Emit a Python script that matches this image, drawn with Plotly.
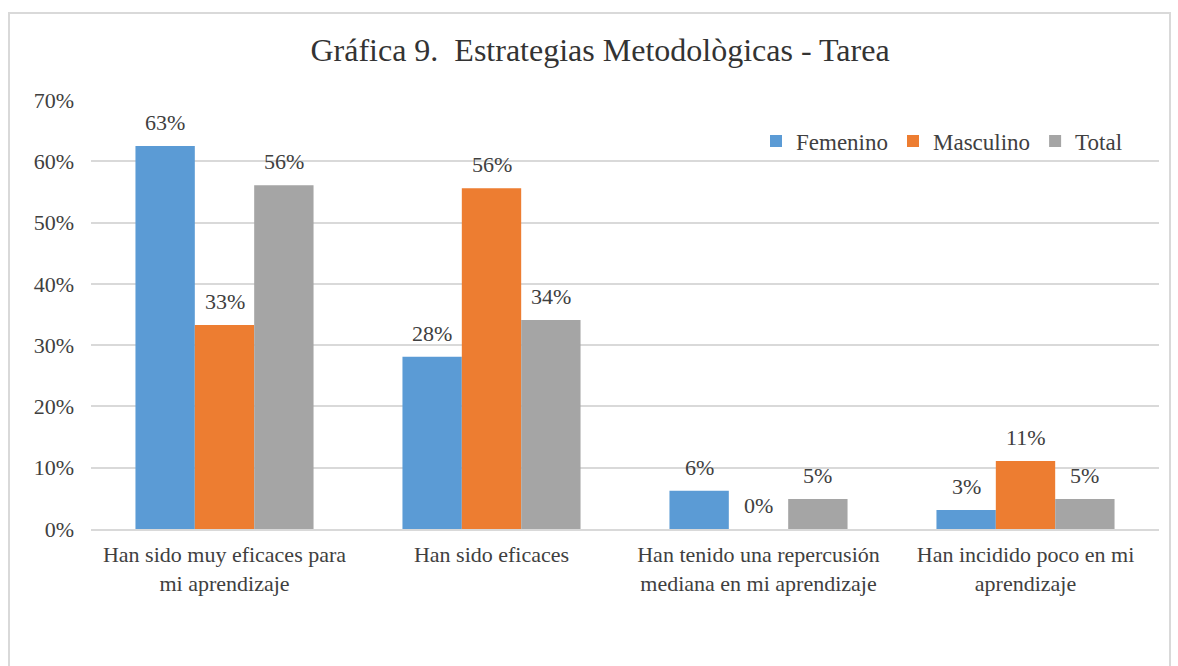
import plotly.graph_objects as go

categories = [
    "Han sido muy eficaces para<br>mi aprendizaje",
    "Han sido eficaces",
    "Han tenido una repercusión<br>mediana en mi aprendizaje",
    "Han incidido poco en mi<br>aprendizaje",
]
femenino = [62.5, 28.1, 6.25, 3.1]
masculino = [33.3, 55.6, 0.0, 11.1]
total = [56.1, 34.1, 4.9, 4.9]
series_names = ["Femenino", "Masculino", "Total"]
colors = ["#5B9BD5", "#ED7D31", "#A5A5A5"]
y_ticks = [0, 10, 20, 30, 40, 50, 60, 70]

FONT = "Liberation Serif, Times New Roman, serif"
TXT = "#404040"
FS = 22

W, H = 1178, 666
L, R, T, B = 91, 19, 100, 137
pw = W - L - R
ph = H - T - B
BARGAP = 0.333
bar_px = pw / len(categories) * (1 - BARGAP) / len(series_names)

def px(x):
    return (x - L) / pw

def py(y):
    return (H - B - y) / ph

fig = go.Figure()
annotations = []
all_series = [femenino, masculino, total]
for i, (name, vals, col) in enumerate(zip(series_names, all_series, colors)):
    fig.add_trace(go.Bar(
        name=name, x=categories, y=vals, marker_color=col,
        marker_line_width=0,
    ))
    for c, v in zip(categories, vals):
        annotations.append(dict(
            x=c, y=v, xref="x", yref="y", text=f"{round(v + 1e-9):.0f}%",
            showarrow=False, yanchor="bottom", yshift=9,
            xshift=(i - (len(series_names) - 1) / 2) * bar_px,
            font=dict(family=FONT, size=FS, color=TXT),
        ))

fig.update_layout(
    width=W, height=H,
    margin=dict(l=L, r=R, t=T, b=B, autoexpand=False),
    paper_bgcolor="white", plot_bgcolor="white",
    barmode="group", bargap=BARGAP, bargroupgap=0,
    font=dict(family=FONT, size=FS, color=TXT),
    title=dict(text="Gráfica 9.  Estrategias Metodològicas - Tarea",
               xref="container", x=600 / W, xanchor="center",
               y=1 - 50 / H, yanchor="middle",
               font=dict(family=FONT, size=32, color="#333333")),
    showlegend=True,
    legend=dict(orientation="h", x=px(1128), xanchor="right",
                y=py(141), yanchor="middle", bgcolor="rgba(0,0,0,0)",
                font=dict(family=FONT, size=23, color=TXT),
                traceorder="normal", itemwidth=30),
    xaxis=dict(showgrid=False, showline=True, linecolor="#D9D9D9", linewidth=2,
               ticks="", ticklabelstandoff=5,
               tickfont=dict(family=FONT, size=FS, color=TXT)),
    yaxis=dict(range=[0, 70], tickvals=y_ticks,
               ticktext=[f"{v}%" for v in y_ticks],
               showgrid=True, gridcolor="#D9D9D9", gridwidth=2,
               zeroline=False, showline=False, ticks="",
               ticklabelstandoff=16,
               tickfont=dict(family=FONT, size=FS, color=TXT)),
    annotations=annotations,
    shapes=[dict(type="rect", xref="paper", yref="paper",
                 x0=px(9), x1=px(1170), y0=py(668), y1=py(13),
                 line=dict(color="#D9D9D9", width=2), fillcolor="rgba(0,0,0,0)",
                 layer="below")],
)

fig.write_html("out.html", config={"displayModeBar": False},
               post_script="document.body.style.margin='0px';")
